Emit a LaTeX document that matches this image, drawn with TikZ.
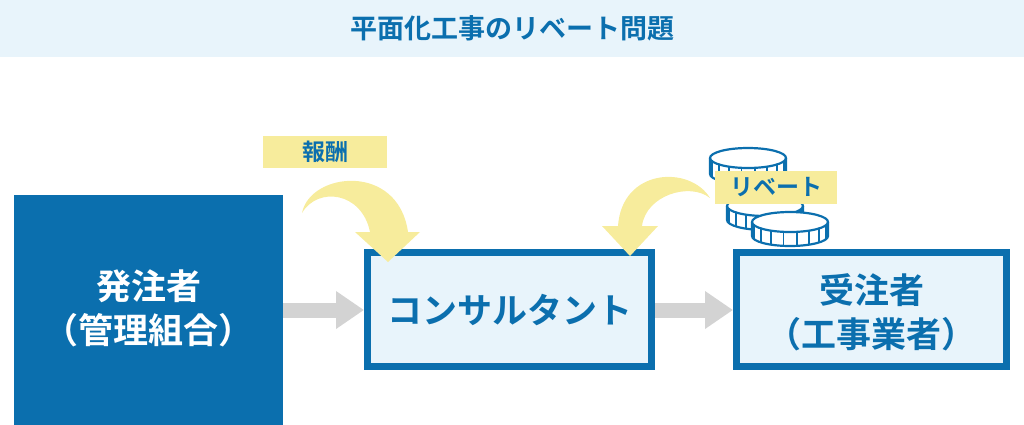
\documentclass[tikz,border=0pt]{standalone}
\usepackage{fontspec}
\usetikzlibrary{arrows.meta}
\newfontfamily\jp{Noto Sans CJK JP Bold}
\definecolor{mainblue}{HTML}{0B6FAE}
\definecolor{paleblue}{HTML}{E8F4FB}
\definecolor{softyellow}{HTML}{F7EC9C}
\definecolor{arrowgray}{HTML}{D3D3D3}
\newcommand{\coinpile}[4]{% x, y (top centre), rx, height
  \fill[white] (#1-#3,#2) -- (#1-#3,#2+#4) arc[start angle=180,end angle=0,x radius=#3,y radius=10] -- (#1+#3,#2) arc[start angle=0,end angle=-180,x radius=#3,y radius=10];
  \draw[mainblue,line width=2.2pt] (#1-#3,#2) -- (#1-#3,#2+#4) arc[start angle=180,end angle=0,x radius=#3,y radius=10] -- (#1+#3,#2);
  \draw[mainblue,line width=2.2pt] (#1,#2) ellipse[x radius=#3,y radius=10];
  \foreach \a in {200,220,...,340}
    \draw[mainblue,line width=1.8pt] ({#1+#3*cos(\a)},{#2-10*sin(\a)}) -- ++(0,#4);
}
\begin{document}
\begin{tikzpicture}[
    x=1pt, y=-1pt,
    title/.style = {font=\jp\fontsize{27}{32}\selectfont, text=mainblue},
    party/.style = {font=\jp\fontsize{35}{44}\selectfont, align=center},
    midbox/.style = {draw=mainblue, line width=7pt, fill=paleblue, inner sep=0pt},
    tag/.style = {fill=softyellow, font=\jp\fontsize{23}{26}\selectfont, text=mainblue, inner sep=0pt},
    flow/.style = {arrowgray, line width=15pt, -{Triangle[length=28pt,width=36pt]}},
    curl/.style = {fill=softyellow}
  ]
  \useasboundingbox (0,0) rectangle (1024,424);

  % title band
  \fill[paleblue] (0,0) rectangle (1024,57);
  \node[title] (title) at (512,28) {平面化工事のリベート問題};

  % parties
  \node[fill=mainblue, minimum width=269pt, minimum height=240pt, inner sep=0pt] (owner) at (148.5,315) {};
  \node[party, text=white] (ownerlbl) at (148.5,308) {発注者\\（管理組合）};
  \node[midbox, minimum width=284pt, minimum height=114pt] (consult) at (509.5,309.5) {};
  \node[party, text=mainblue] (consultlbl) at (consult) {コンサルタント};
  \node[midbox, minimum width=270pt, minimum height=114pt] (contractor) at (871.5,309.5) {};
  \node[party, text=mainblue] (contractorlbl) at (871.5,312) {受注者\\（工事業者）};

  % money flow
  \draw[flow] (owner.east |- 0,310) -- (consult.west |- 0,310);
  \draw[flow] (consult.east |- 0,310) -- (contractor.west |- 0,310);

  % fee
  \node[tag, minimum width=124pt, minimum height=32pt] (fee) at (325,152) {報酬};
  \fill[curl] (302,213) .. controls (310,172) and (398,162) .. (408,232) -- (420,232) -- (388,262)
    -- (355,232) -- (370,232) .. controls (362,192) and (318,186) .. (302,213);

  % rebate
  \fill[curl] (710,198) .. controls (690,165) and (622,168) .. (618,226) -- (602,226) -- (630,256)
    -- (658,226) -- (642,226) .. controls (646,195) and (690,182) .. (710,198);
  \coinpile{748}{158}{38}{16}
  \coinpile{765}{206}{38}{14}
  \coinpile{790}{222}{38}{14}
  \node[tag, minimum width=122pt, minimum height=33pt] (rebate) at (776,187) {リベート};
\end{tikzpicture}
\end{document}
